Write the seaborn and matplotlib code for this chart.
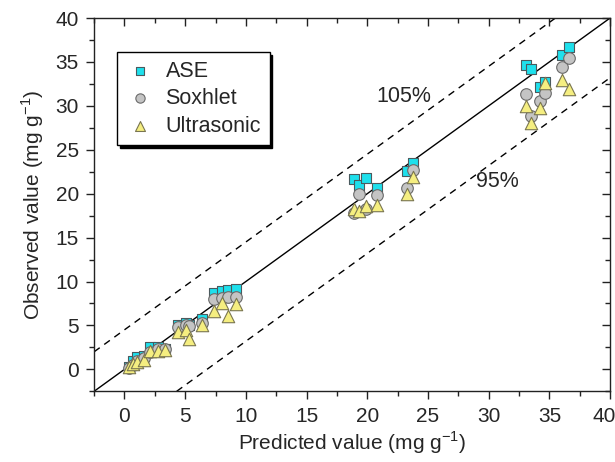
import numpy as np
import pandas as pd
import seaborn as sns
import matplotlib.pyplot as plt
import matplotlib.transforms as mtransforms
from matplotlib.ticker import MultipleLocator

# Predicted values (shared by the three extraction methods)
predicted = [0.4, 0.7, 1.0, 1.6, 2.1, 2.8, 3.3, 4.4, 5.1, 5.3, 6.4, 7.4, 8.0, 8.5, 9.2,
             18.9, 19.3, 19.9, 20.8, 23.3, 23.8, 33.1, 33.5, 34.2, 34.6, 36.0, 36.6]

# Observed values per method
ase = [0.3, 0.9, 1.4, 1.5, 2.5, 2.6, 2.3, 5.0, 5.3, 5.0, 5.7, 8.7, 8.9, 9.0, 9.2,
       21.7, 21.0, 21.8, 20.6, 22.6, 23.5, 34.7, 34.2, 32.2, 32.7, 35.8, 36.7]
soxhlet = [0.2, 0.5, 0.9, 1.3, 2.0, 2.3, 2.3, 4.8, 5.1, 4.9, 5.3, 8.0, 8.1, 8.2, 8.2,
           17.8, 20.0, 18.2, 19.9, 20.6, 22.7, 31.4, 28.8, 30.6, 31.5, 34.4, 35.5]
ultrasonic = [0.3, 0.6, 0.8, 1.1, 2.1, 2.1, 2.2, 4.2, 4.5, 3.4, 5.1, 6.7, 7.5, 6.1, 7.4,
              18.3, 18.0, 18.6, 18.7, 20.0, 21.9, 30.0, 28.0, 29.7, 32.6, 33.0, 31.9]

methods = ['ASE', 'Soxhlet', 'Ultrasonic']

# Offsets of the 105% / 95% guide lines
upper_offset = 4.5
lower_offset = -6.8

df = pd.DataFrame({
    'Predicted': predicted * 3,
    'Observed': ase + soxhlet + ultrasonic,
    'Method': np.repeat(methods, len(predicted)),
})

sns.set_style('ticks')
plt.rcParams['font.family'] = ['Liberation Sans', 'DejaVu Sans']
plt.rcParams['mathtext.fontset'] = 'custom'
plt.rcParams['mathtext.rm'] = 'Liberation Sans'

fig, ax = plt.subplots(figsize=(6.15, 4.62), dpi=100)
fig.subplots_adjust(left=0.153, right=0.992, top=0.961, bottom=0.153)

# guide lines
ax.axline((0, 0), slope=1, color='black', lw=1.0, zorder=1)
ax.axline((0, upper_offset), slope=1, color='black', lw=1.0, ls=(0, (5, 4)), zorder=1)
ax.axline((0, lower_offset), slope=1, color='black', lw=1.0, ls=(0, (5, 4)), zorder=1)

styles = {
    'ASE': dict(marker='s', color='#1EE0EC', edgecolor='#4a5a5e', s=62),
    'Soxhlet': dict(marker='o', color='#C4C4C4', edgecolor='#6a6a6a', s=70),
    'Ultrasonic': dict(marker='^', color='#F5EE80', edgecolor='#7a7650', s=80),
}
for m in methods:
    sns.scatterplot(data=df[df['Method'] == m], x='Predicted', y='Observed', ax=ax,
                    label=m, linewidth=0.8, zorder=3, **styles[m])

ax.set_xlim(-2.5, 40)
ax.set_ylim(-2.5, 40)
ax.set_xticks(range(0, 41, 5))
ax.set_yticks(range(0, 41, 5))
ax.xaxis.set_minor_locator(MultipleLocator(2.5))
ax.yaxis.set_minor_locator(MultipleLocator(2.5))

for side in ['top', 'right', 'bottom', 'left']:
    ax.spines[side].set_visible(True)
    ax.spines[side].set_color('#222222')
    ax.spines[side].set_linewidth(1.0)

ax.tick_params(which='both', direction='out', color='#222222', width=1.0,
               labelsize=15, pad=5)
ax.tick_params(which='major', length=6)
ax.tick_params(which='minor', length=3.5)
# mirrored ticks on top/right pointing inwards
ax.tick_params(which='both', top=True, right=True)
for t in ax.xaxis.get_major_ticks() + ax.xaxis.get_minor_ticks():
    t.tick2line.set_marker(3)
for t in ax.yaxis.get_major_ticks() + ax.yaxis.get_minor_ticks():
    t.tick2line.set_marker(0)

ax.set_xlabel('Predicted value (mg g$^{\\mathregular{-1}}$)', fontsize=15, labelpad=3)
ax.set_ylabel('Observed value (mg g$^{\\mathregular{-1}}$)', fontsize=15, labelpad=7)

ax.text(23.0, 31.1, '105%', fontsize=15.5, ha='center', va='center')
ax.text(30.7, 21.4, '95%', fontsize=15.5, ha='center', va='center')

leg = ax.legend(loc='upper left', bbox_to_anchor=(0.045, 0.909), fontsize=15.5,
                frameon=True, fancybox=False, edgecolor='black', framealpha=1,
                shadow={'color': 'black', 'alpha': 1}, handletextpad=0.5,
                borderpad=0.4, borderaxespad=0, labelspacing=0.3, handlelength=1.34,
                markerscale=0.8)
leg.get_frame().set_linewidth(1.0)

# keep the last x tick label ("40") inside the figure
fig.canvas.draw()
last = ax.xaxis.get_major_ticks()[-1]
last.label1.set_horizontalalignment('right')
last.label1.set_transform(last.label1.get_transform() +
                          mtransforms.ScaledTranslation(4 / 72, 0, fig.dpi_scale_trans))

fig.savefig('out.png', dpi=100)
